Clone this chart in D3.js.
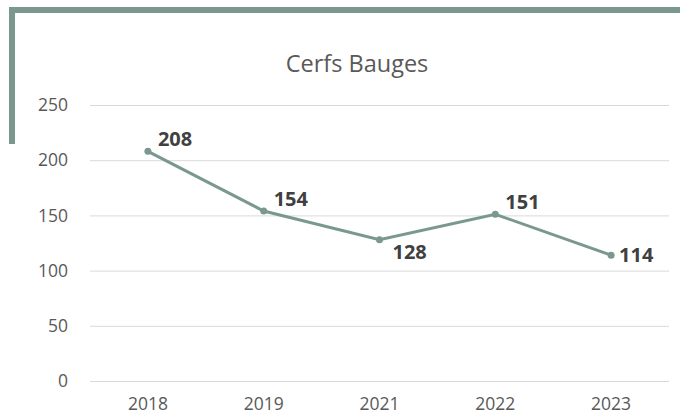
<!DOCTYPE html>
<html lang="fr">
<head>
  <meta charset="utf-8">
  <title>Cerfs Bauges</title>
  <script src="https://d3js.org/d3.v7.min.js"></script>
  <style>
    html, body { margin: 0; padding: 0; background: #fff; overflow: hidden; }
    svg { display: block; }
    .axis path.domain { display: none; }
    .axis text { font-family: "Open Sans", sans-serif; font-size: 17.5px; fill: #595959; }
    #chartTitle { font-family: "Open Sans", sans-serif; font-size: 23.5px; fill: #595959; text-anchor: middle; }
    .dataLabel { font-family: "Open Sans", sans-serif; font-size: 20px; font-weight: bold; fill: #404040; }
  </style>
</head>
<body>
  <script>
    // data
    const years = ["2018", "2019", "2021", "2022", "2023"];
    const cerfs = [208, 154, 128, 151, 114];
    const yTicks = [0, 50, 100, 150, 200, 250];
    // where each value label sits relative to its point
    const labelPlace = ["upRight", "upRight", "downRight", "upRight", "right"];

    const width = 680, height = 418;
    const margin = { top: 105, right: 11, bottom: 37, left: 90 };
    const innerWidth = width - margin.left - margin.right;
    const innerHeight = height - margin.top - margin.bottom;
    const frameColor = "#7b988f";

    const svg = d3.select("body").append("svg")
      .attr("width", width).attr("height", height);

    // frame (top and left bars)
    svg.append("rect").attr("x", 9).attr("y", 7).attr("width", width - 9).attr("height", 6).attr("fill", frameColor);
    svg.append("rect").attr("x", 9).attr("y", 7).attr("width", 6).attr("height", 137).attr("fill", frameColor);

    svg.append("text").attr("id", "chartTitle")
      .attr("x", 357).attr("y", 72)
      .text("Cerfs Bauges");

    const g = svg.append("g").attr("transform", `translate(${margin.left},${margin.top})`);

    const xScale = d3.scaleBand().domain(years).range([0, innerWidth]);
    const yScale = d3.scaleLinear().domain([0, 250]).range([innerHeight, 0]);

    // y grid + labels
    const yAxis = d3.axisLeft(yScale).tickValues(yTicks)
      .tickSize(-innerWidth).tickPadding(22);
    const yG = g.append("g").attr("class", "axis").call(yAxis);
    yG.selectAll(".tick line").attr("stroke", "#d9d9d9").attr("stroke-width", 1);

    const xAxis = d3.axisBottom(xScale).tickSize(0).tickPadding(17);
    g.append("g").attr("class", "axis")
      .attr("transform", `translate(0,${innerHeight})`)
      .call(xAxis);

    const cx = (d, i) => xScale(years[i]) + xScale.bandwidth() / 2;
    const cy = d => yScale(d);

    const line = d3.line().x(cx).y(cy);
    g.append("path").datum(cerfs)
      .attr("d", line)
      .attr("fill", "none")
      .attr("stroke", frameColor)
      .attr("stroke-width", 3);

    g.selectAll("circle.pt").data(cerfs).join("circle")
      .attr("class", "pt")
      .attr("cx", cx).attr("cy", cy).attr("r", 3.5)
      .attr("fill", frameColor);

    const offs = {
      upRight: [10, -12],
      downRight: [13, 12],
      right: [8, 0]
    };
    g.selectAll("text.dataLabel").data(cerfs).join("text")
      .attr("class", "dataLabel")
      .attr("x", (d, i) => cx(d, i) + offs[labelPlace[i]][0])
      .attr("y", (d, i) => cy(d) + offs[labelPlace[i]][1])
      .attr("dy", "0.35em")
      .text(d => d);
  </script>
</body>
</html>
